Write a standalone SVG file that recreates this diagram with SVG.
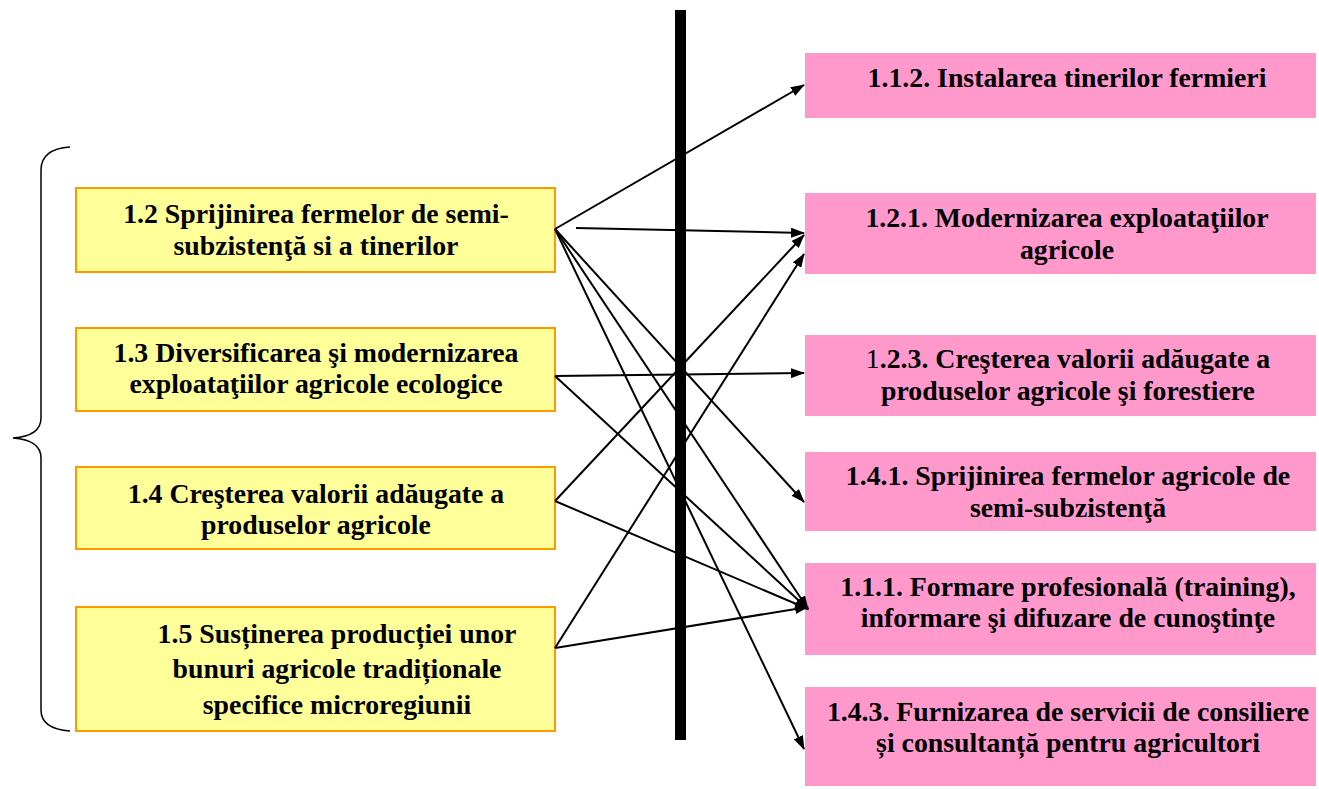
<svg xmlns="http://www.w3.org/2000/svg" width="1319" height="789" viewBox="0 0 1319 789">
<style>
.l{fill:#FFFF99;stroke:#FF9900;stroke-width:2}
.r{fill:#FF99CC}
text{font-family:"Liberation Serif","Times New Roman",serif;font-weight:bold;font-size:27.8px;fill:#000;text-anchor:middle}
.c{stroke:#000;stroke-width:2;fill:none;marker-end:url(#ah)}
</style>
<defs>
<marker id="ah" viewBox="0 0 14 10" refX="13" refY="5" markerWidth="14" markerHeight="10" markerUnits="userSpaceOnUse" orient="auto">
<path d="M0,0 L14,5 L0,10 Z" fill="#000"/>
</marker>
</defs>
<rect width="1319" height="789" fill="#fff"/>
<path id="brace" d="M70,147 Q41,149 41,170 L41,418 Q41,436 13,438 Q41,440 41,458 L41,710 Q41,729 70,731" fill="none" stroke="#000" stroke-width="1.5"/>
<rect id="bar" x="675" y="10" width="11" height="730" fill="#000"/>
<g id="n12"><rect class="l" x="76" y="188" width="479" height="84"/><text x="316" y="223">1.2 Sprijinirea fermelor de semi-</text><text x="316" y="255">subzistenţă si a tinerilor</text></g>
<g id="n13"><rect class="l" x="76" y="328" width="479" height="83"/><text x="316" y="362">1.3 Diversificarea şi modernizarea</text><text x="316" y="393">exploataţiilor agricole ecologice</text></g>
<g id="n14"><rect class="l" x="76" y="467" width="479" height="82"/><text x="316" y="503">1.4 Creşterea valorii adăugate a</text><text x="316" y="534">produselor agricole</text></g>
<g id="n15"><rect class="l" x="76" y="607" width="479" height="124"/><text x="337" y="643">1.5 Susținerea producției unor</text><text x="337" y="678">bunuri agricole tradiționale</text><text x="337" y="714">specifice microregiunii</text></g>
<g id="n112"><rect class="r" x="805" y="53" width="511" height="65"/><text x="1067" y="87">1.1.2. Instalarea tinerilor fermieri</text></g>
<g id="n121"><rect class="r" x="805" y="193" width="511" height="81"/><text x="1067" y="227">1.2.1. Modernizarea exploataţiilor</text><text x="1067" y="259">agricole</text></g>
<g id="n123"><rect class="r" x="805" y="335" width="511" height="81"/><text x="1068" y="368"><tspan font-weight="normal">1</tspan>.2.3. Creşterea valorii adăugate a</text><text x="1068" y="400">produselor agricole şi forestiere</text></g>
<g id="n141"><rect class="r" x="805" y="452" width="511" height="79"/><text x="1068" y="485">1.4.1. Sprijinirea fermelor agricole de</text><text x="1068" y="517">semi-subzistenţă</text></g>
<g id="n111"><rect class="r" x="805" y="563" width="511" height="92"/><text x="1068" y="596">1.1.1. Formare profesională (training),</text><text x="1068" y="627">informare şi difuzare de cunoştinţe</text></g>
<g id="n143"><rect class="r" x="805" y="687" width="511" height="99"/><text x="1068" y="721">1.4.3. Furnizarea de servicii de consiliere</text><text x="1068" y="752">și consultanță pentru agricultori</text></g>
<g id="connectors">
<line class="c" x1="555" y1="229" x2="804" y2="85"/>
<line class="c" x1="576" y1="228" x2="804" y2="233"/>
<line class="c" x1="555" y1="229" x2="804" y2="502"/>
<line class="c" x1="555" y1="229" x2="808" y2="609"/>
<line class="c" x1="555" y1="229" x2="804" y2="749"/>
<line class="c" x1="555" y1="376" x2="804" y2="373"/>
<line class="c" x1="555" y1="376" x2="808" y2="609"/>
<line class="c" x1="555" y1="501" x2="804" y2="235"/>
<line class="c" x1="555" y1="501" x2="808" y2="609"/>
<line class="c" x1="555" y1="648" x2="804" y2="254"/>
<line class="c" x1="555" y1="648" x2="808" y2="607"/>
</g>
</svg>
